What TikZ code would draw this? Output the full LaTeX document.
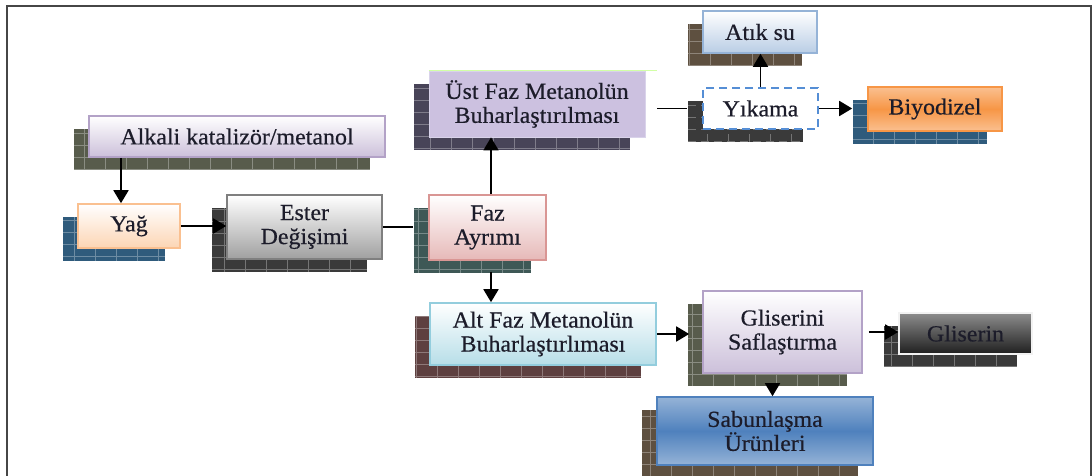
\documentclass[tikz,border=0pt]{standalone}
\usepackage{fontspec}
\setmainfont{Liberation Serif}[FakeStretch=1.04,FakeBold=0.5]
\usetikzlibrary{arrows.meta,shadows}
\definecolor{ink}{RGB}{28,28,42}
\definecolor{framegray}{RGB}{70,70,70}
\definecolor{lavdk}{RGB}{179,162,199}
\definecolor{lav}{RGB}{204,192,218}
\definecolor{orgdk}{RGB}{250,192,144}
\definecolor{org}{RGB}{252,213,180}
\definecolor{graydk}{RGB}{127,127,127}
\definecolor{graylt}{RGB}{160,160,160}
\definecolor{rosedk}{RGB}{217,150,148}
\definecolor{rose}{RGB}{230,185,184}
\definecolor{ustfill}{RGB}{204,193,224}
\definecolor{ustline}{RGB}{217,211,234}
\definecolor{skydk}{RGB}{149,179,215}
\definecolor{sky}{RGB}{185,205,229}
\definecolor{dashblue}{RGB}{85,142,213}
\definecolor{biyo}{RGB}{247,150,70}
\definecolor{biyolt}{RGB}{250,192,144}
\definecolor{cyandk}{RGB}{147,205,221}
\definecolor{cyanlt}{RGB}{183,222,232}
\definecolor{sabun}{RGB}{79,129,189}
\definecolor{sabunlt}{RGB}{149,179,215}
\definecolor{shol}{RGB}{88,92,76}
\definecolor{shblue}{RGB}{47,91,124}
\definecolor{shdark}{RGB}{58,58,58}
\definecolor{shteal}{RGB}{62,88,86}
\definecolor{shpurp}{RGB}{72,68,88}
\definecolor{shbrown}{RGB}{94,80,64}
\definecolor{shred}{RGB}{94,64,64}

\begin{document}
\begin{tikzpicture}[x=1pt,y=-1pt,
  every node/.style={font=\fontsize{23}{24}\selectfont,text=ink},
  box/.style={draw,line width=1.6pt,inner sep=0pt,align=center},
  sh/.style={drop shadow={shadow xshift=-15pt,shadow yshift=-13pt,opacity=1,fill=#1,
    path picture={\draw[white,opacity=.3,line width=.6pt]
      (path picture bounding box.south west) grid[xstep=21pt,ystep=12pt]
      (path picture bounding box.north east);}}},
  e/.style={-{Triangle[length=13pt,width=15pt]},line width=1.8pt},
  l/.style={line width=1.6pt}]
  \useasboundingbox (0,0) rectangle (1092,476);
  \draw[line width=1.5pt,framegray] (7,482) -- (7,6) -- (1091,6) -- (1091,482);

  \node[box,sh=shol,draw=lavdk,top color=white,bottom color=lav,
    minimum width=296,minimum height=41] (alkali) at (237,136.5) {Alkali katalizör/metanol};
  \node[box,sh=shblue,draw=orgdk,top color=white,bottom color=org,
    minimum width=102,minimum height=44] (yag) at (129,226) {Yağ};
  \node[box,sh=shdark,draw=graydk,top color=white,bottom color=graylt,
    minimum width=155,minimum height=64] (ester) at (304.5,227) {Ester\\Değişimi};
  \node[box,sh=shteal,draw=rosedk,top color=white,bottom color=rose,
    minimum width=117,minimum height=65] (faz) at (487.5,227.5) {Faz\\Ayrımı};
  \node[box,sh=shpurp,draw=ustline,line width=.8pt,fill=ustfill,
    minimum width=216,minimum height=66] (ust) at (537,104) {Üst Faz Metanolün\\Buharlaştırılması};
  \node[box,sh=shbrown,draw=skydk,top color=white,bottom color=sky,
    minimum width=114,minimum height=42] (atik) at (760,32) {Atık su};
  \node[box,sh=shdark,draw=dashblue,dash pattern=on 8pt off 5pt,fill=white,
    minimum width=115,minimum height=41] (yikama) at (760.5,108.5) {Yıkama};
  \node[box,sh=shblue,draw=biyo,top color=biyolt,bottom color=biyolt,middle color=biyo,
    minimum width=134,minimum height=44] (biyo) at (935,109) {Biyodizel};
  \node[box,sh=shred,draw=cyandk,top color=white,bottom color=cyanlt,
    minimum width=226,minimum height=62] (alt) at (543,334) {Alt Faz Metanolün\\Buharlaştırlıması};
  \node[box,sh=shol,draw=lavdk,top color=white,bottom color=lav,
    minimum width=159,minimum height=82] (glis) at (782.5,332) {Gliserini\\Saflaştırma};
  \node[box,sh=shdark,draw=black!5,top color=black!45,bottom color=black!88,
    minimum width=133,minimum height=41] (gliserin) at (965.5,333.5) {Gliserin};
  \node[box,sh=shbrown,draw=sabun,top color=sabunlt,bottom color=sabunlt,middle color=sabun,
    minimum width=216,minimum height=68] (sabunu) at (765,431) {Sabunlaşma\\Ürünleri};

  \draw[line width=.8pt,green!50!yellow!35] (ust.north west) -- ([xshift=12pt]ust.north east);
  \draw[e] ([xshift=-8pt]yag.north |- alkali.south) -- ([xshift=-8pt]yag.north);
  \draw[e] (yag.east) -- (ester.west |- yag.east);
  \draw[l] (ester.east) -- ([xshift=-15pt]faz.west |- ester.east);
  \draw[e] ([xshift=3.5pt]faz.north) -- ([xshift=3.5pt]faz.north |- ust.south);
  \draw[l] ([xshift=12pt]ust.east |- yikama.west) -- ([xshift=-15pt]yikama.west);
  \draw[e] (yikama.north) -- (yikama.north |- atik.south);
  \draw[e] (yikama.east) -- ([xshift=-15pt]biyo.west |- yikama.east);
  \draw[e] ([xshift=3.5pt,yshift=-11pt]faz.south) -- ([xshift=3.5pt]faz.south |- alt.north);
  \draw[e] (alt.east) -- ([xshift=-13pt]glis.west |- alt.east);
  \draw[e] ([xshift=6pt]glis.east) -- (gliserin.west |- glis.east);
  \draw[e] ([xshift=-10pt,yshift=-13pt]glis.south) -- ([xshift=-10pt]glis.south |- sabunu.north);
\end{tikzpicture}
\end{document}
